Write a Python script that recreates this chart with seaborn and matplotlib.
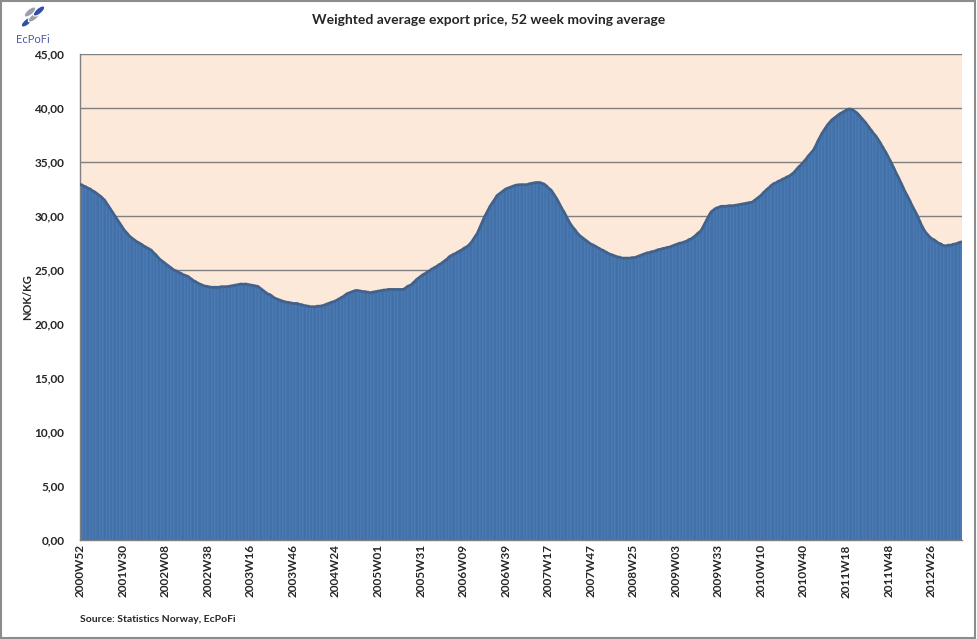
import datetime as dt
import matplotlib
matplotlib.use("Agg")
import matplotlib.pyplot as plt
from matplotlib.patches import Ellipse
import seaborn as sns
import pandas as pd

# ---- data (NOK/kg, 52 week moving average), weekly from 2000W52 ----
values = [
    32.9, 32.9, 32.8, 32.75, 32.7, 32.6, 32.55, 32.5, 32.4, 32.3,
    32.25, 32.15, 32.05, 31.95, 31.85, 31.75, 31.6, 31.5, 31.3, 31.1,
    30.9, 30.7, 30.5, 30.3, 30.1, 29.9, 29.7, 29.5, 29.3, 29.1,
    28.9, 28.7, 28.55, 28.4, 28.25, 28.1, 28.0, 27.9, 27.8, 27.7,
    27.6, 27.55, 27.45, 27.4, 27.3, 27.2, 27.15, 27.05, 27.0, 26.9,
    26.85, 26.7, 26.55, 26.45, 26.3, 26.15, 26.0, 25.9, 25.8, 25.7,
    25.6, 25.5, 25.4, 25.3, 25.2, 25.1, 25.0, 24.95, 24.9, 24.8,
    24.75, 24.7, 24.6, 24.55, 24.5, 24.45, 24.4, 24.3, 24.2, 24.1,
    24.0, 23.95, 23.85, 23.8, 23.7, 23.67, 23.6, 23.55, 23.5, 23.5,
    23.45, 23.45, 23.4, 23.4, 23.4, 23.4, 23.4, 23.4, 23.4, 23.45,
    23.45, 23.45, 23.45, 23.45, 23.46, 23.5, 23.5, 23.55, 23.55, 23.6,
    23.6, 23.65, 23.65, 23.7, 23.7, 23.67, 23.7, 23.7, 23.65, 23.65,
    23.6, 23.6, 23.55, 23.55, 23.5, 23.5, 23.4, 23.3, 23.2, 23.1,
    23.0, 22.9, 22.8, 22.75, 22.7, 22.6, 22.5, 22.4, 22.35, 22.3,
    22.25, 22.2, 22.15, 22.1, 22.07, 22.05, 22.0, 22.0, 21.95, 21.95,
    21.9, 21.9, 21.9, 21.9, 21.85, 21.8, 21.8, 21.75, 21.7, 21.7,
    21.65, 21.65, 21.6, 21.6, 21.6, 21.6, 21.6, 21.65, 21.65, 21.65,
    21.67, 21.7, 21.75, 21.8, 21.85, 21.9, 21.95, 22.0, 22.05, 22.07,
    22.15, 22.2, 22.3, 22.35, 22.45, 22.5, 22.6, 22.7, 22.8, 22.85,
    22.9, 22.95, 23.0, 23.05, 23.1, 23.1, 23.1, 23.05, 23.05, 23.0,
    23.0, 23.0, 22.95, 22.95, 22.9, 22.9, 22.95, 22.95, 23.0, 23.0,
    23.05, 23.05, 23.1, 23.1, 23.15, 23.15, 23.15, 23.2, 23.2, 23.2,
    23.2, 23.2, 23.2, 23.2, 23.2, 23.2, 23.2, 23.2, 23.2, 23.3,
    23.4, 23.5, 23.55, 23.6, 23.7, 23.85, 23.95, 24.1, 24.2, 24.3,
    24.4, 24.5, 24.6, 24.65, 24.75, 24.85, 24.9, 25.0, 25.1, 25.15,
    25.25, 25.3, 25.4, 25.5, 25.55, 25.65, 25.75, 25.85, 25.95, 26.05,
    26.2, 26.3, 26.35, 26.45, 26.5, 26.55, 26.65, 26.7, 26.8, 26.85,
    26.95, 27.05, 27.1, 27.2, 27.3, 27.45, 27.6, 27.8, 28.0, 28.2,
    28.4, 28.7, 29.0, 29.3, 29.6, 29.9, 30.15, 30.4, 30.65, 30.9,
    31.1, 31.3, 31.5, 31.7, 31.9, 32.0, 32.1, 32.2, 32.3, 32.4,
    32.5, 32.55, 32.6, 32.65, 32.7, 32.75, 32.8, 32.85, 32.87, 32.9,
    32.9, 32.9, 32.9, 32.9, 32.9, 32.9, 32.95, 33.0, 33.0, 33.05,
    33.05, 33.1, 33.1, 33.1, 33.1, 33.05, 33.0, 32.96, 32.85, 32.75,
    32.6, 32.5, 32.4, 32.2, 32.0, 31.8, 31.6, 31.35, 31.1, 30.85,
    30.6, 30.4, 30.15, 29.9, 29.65, 29.4, 29.2, 29.0, 28.85, 28.7,
    28.5, 28.35, 28.2, 28.1, 28.0, 27.9, 27.8, 27.7, 27.6, 27.5,
    27.4, 27.35, 27.3, 27.2, 27.15, 27.05, 27.0, 26.9, 26.85, 26.8,
    26.7, 26.65, 26.55, 26.5, 26.45, 26.4, 26.35, 26.3, 26.25, 26.2,
    26.2, 26.15, 26.1, 26.1, 26.1, 26.1, 26.1, 26.1, 26.1, 26.15,
    26.15, 26.15, 26.2, 26.25, 26.3, 26.35, 26.4, 26.45, 26.5, 26.55,
    26.6, 26.6, 26.65, 26.7, 26.7, 26.75, 26.8, 26.85, 26.9, 26.9,
    26.95, 27.0, 27.0, 27.05, 27.1, 27.1, 27.15, 27.2, 27.25, 27.3,
    27.35, 27.4, 27.45, 27.5, 27.5, 27.55, 27.6, 27.65, 27.7, 27.8,
    27.85, 27.9, 28.0, 28.1, 28.2, 28.35, 28.45, 28.55, 28.7, 28.95,
    29.2, 29.45, 29.7, 29.95, 30.2, 30.4, 30.5, 30.6, 30.7, 30.75,
    30.8, 30.85, 30.9, 30.9, 30.9, 30.9, 30.9, 30.95, 30.95, 30.95,
    30.95, 30.96, 31.0, 31.0, 31.05, 31.05, 31.1, 31.1, 31.15, 31.15,
    31.2, 31.2, 31.25, 31.25, 31.3, 31.4, 31.5, 31.6, 31.7, 31.8,
    31.9, 32.05, 32.2, 32.3, 32.45, 32.55, 32.65, 32.8, 32.9, 33.0,
    33.05, 33.1, 33.2, 33.25, 33.3, 33.4, 33.45, 33.5, 33.6, 33.65,
    33.7, 33.8, 33.9, 34.0, 34.15, 34.3, 34.45, 34.6, 34.7, 34.85,
    35.0, 35.15, 35.3, 35.5, 35.65, 35.8, 35.95, 36.1, 36.35, 36.6,
    36.9, 37.15, 37.4, 37.65, 37.85, 38.05, 38.25, 38.45, 38.6, 38.75,
    38.9, 39.0, 39.1, 39.2, 39.3, 39.4, 39.5, 39.55, 39.65, 39.7,
    39.8, 39.85, 39.9, 39.9, 39.85, 39.8, 39.7, 39.6, 39.5, 39.35,
    39.2, 39.05, 38.9, 38.75, 38.6, 38.4, 38.25, 38.05, 37.9, 37.7,
    37.55, 37.4, 37.2, 37.0, 36.8, 36.55, 36.35, 36.1, 35.9, 35.65,
    35.4, 35.15, 34.9, 34.6, 34.35, 34.05, 33.8, 33.55, 33.25, 33.0,
    32.7, 32.4, 32.15, 31.9, 31.65, 31.4, 31.1, 30.85, 30.6, 30.35,
    30.1, 29.8, 29.5, 29.2, 28.95, 28.7, 28.5, 28.35, 28.2, 28.05,
    27.95, 27.85, 27.8, 27.7, 27.6, 27.5, 27.45, 27.4, 27.3, 27.25,
    27.25, 27.25, 27.3, 27.3, 27.3, 27.35, 27.4, 27.4, 27.45, 27.5,
    27.55, 27.6,
]

tick_labels = ["2000W52", "2001W30", "2002W08", "2002W38", "2003W16", "2003W46",
               "2004W24", "2005W01", "2005W31", "2006W09", "2006W39", "2007W17",
               "2007W47", "2008W25", "2009W03", "2009W33", "2010W10", "2010W40",
               "2011W18", "2011W48", "2012W26"]

title = "Weighted average export price, 52 week moving average"
ylabel = "NOK/KG"
source = "Source: Statistics Norway, EcPoFi"

# ISO week category labels
start = dt.date(2000, 12, 25)  # Monday of ISO 2000W52
weeks = []
for i in range(len(values)):
    y, w, _ = (start + dt.timedelta(weeks=i)).isocalendar()
    weeks.append(f"{y}W{w:02d}")

df = pd.DataFrame({"week": weeks, "price": values})

sns.set_theme(style="white")
plt.rcParams["font.family"] = ["Lato", "DejaVu Sans"]

fig = plt.figure(figsize=(9.77, 6.39), dpi=100)
ax = fig.add_axes([0.0814, 0.1549, 0.9029, 0.7606])
ax.set_facecolor("#FDE9D9")

sns.barplot(data=df, x="week", y="price", color="#4F81BD", width=1.0,
            edgecolor="#3B6493", linewidth=0.3, saturation=1, ax=ax, zorder=2)
sns.lineplot(x=list(range(len(values))), y=values, color="#41628C", lw=2.0,
             ax=ax, zorder=3)

ax.set_ylim(0, 45)
ax.set_xlim(-0.5, len(values) - 0.5)
ax.set_yticks(range(0, 46, 5))
ax.set_yticklabels([f"{v},00" for v in range(0, 46, 5)], fontsize=8.5, fontweight="bold")
ax.yaxis.grid(True, color="#808080", lw=1.0, zorder=0)
ax.set_axisbelow(True)

pos = [weeks.index(t) for t in tick_labels]
ax.set_xticks(pos)
ax.set_xticklabels(tick_labels, rotation=90, fontsize=8.5, fontweight="bold")
ax.tick_params(axis="both", length=0, pad=3)
ax.tick_params(axis="y", pad=11)

ax.set_xlabel("")
ax.set_ylabel(ylabel, fontsize=8, fontweight="bold", labelpad=1)

for s in ["top", "right"]:
    ax.spines[s].set_visible(False)
for s in ["left", "bottom"]:
    ax.spines[s].set_color("#808080")
    ax.spines[s].set_linewidth(1.0)

fig.text(0.5, 0.968, title, ha="center", va="center", fontsize=10, fontweight="bold")
fig.text(0.082, 0.030, source, ha="left", va="center", fontsize=7.5, fontweight="bold")
fig.text(0.034, 0.938, "EcPoFi", ha="center", va="center", fontsize=8, color="#4A5D9E")

# simple logo stand-in (pixel coordinates, origin bottom-left)
H = 639
for (cx, cy, col) in [(27, H - 22, "#2F4FA8"), (34, H - 17, "#9AA0A8"),
                      (39, H - 11, "#2F4FA8"), (30, H - 12, "#9AA0A8")]:
    fig.patches.append(Ellipse((cx, cy), 14, 6, angle=40, transform=None,
                               facecolor=col, edgecolor="white", lw=0.8))

# figure border
fig.patches.append(plt.Rectangle((0.001, 0.002), 0.997, 0.996, transform=fig.transFigure,
                                 fill=False, edgecolor="#8C8C8C", lw=1.5))

fig.savefig("out.png", dpi=100)
